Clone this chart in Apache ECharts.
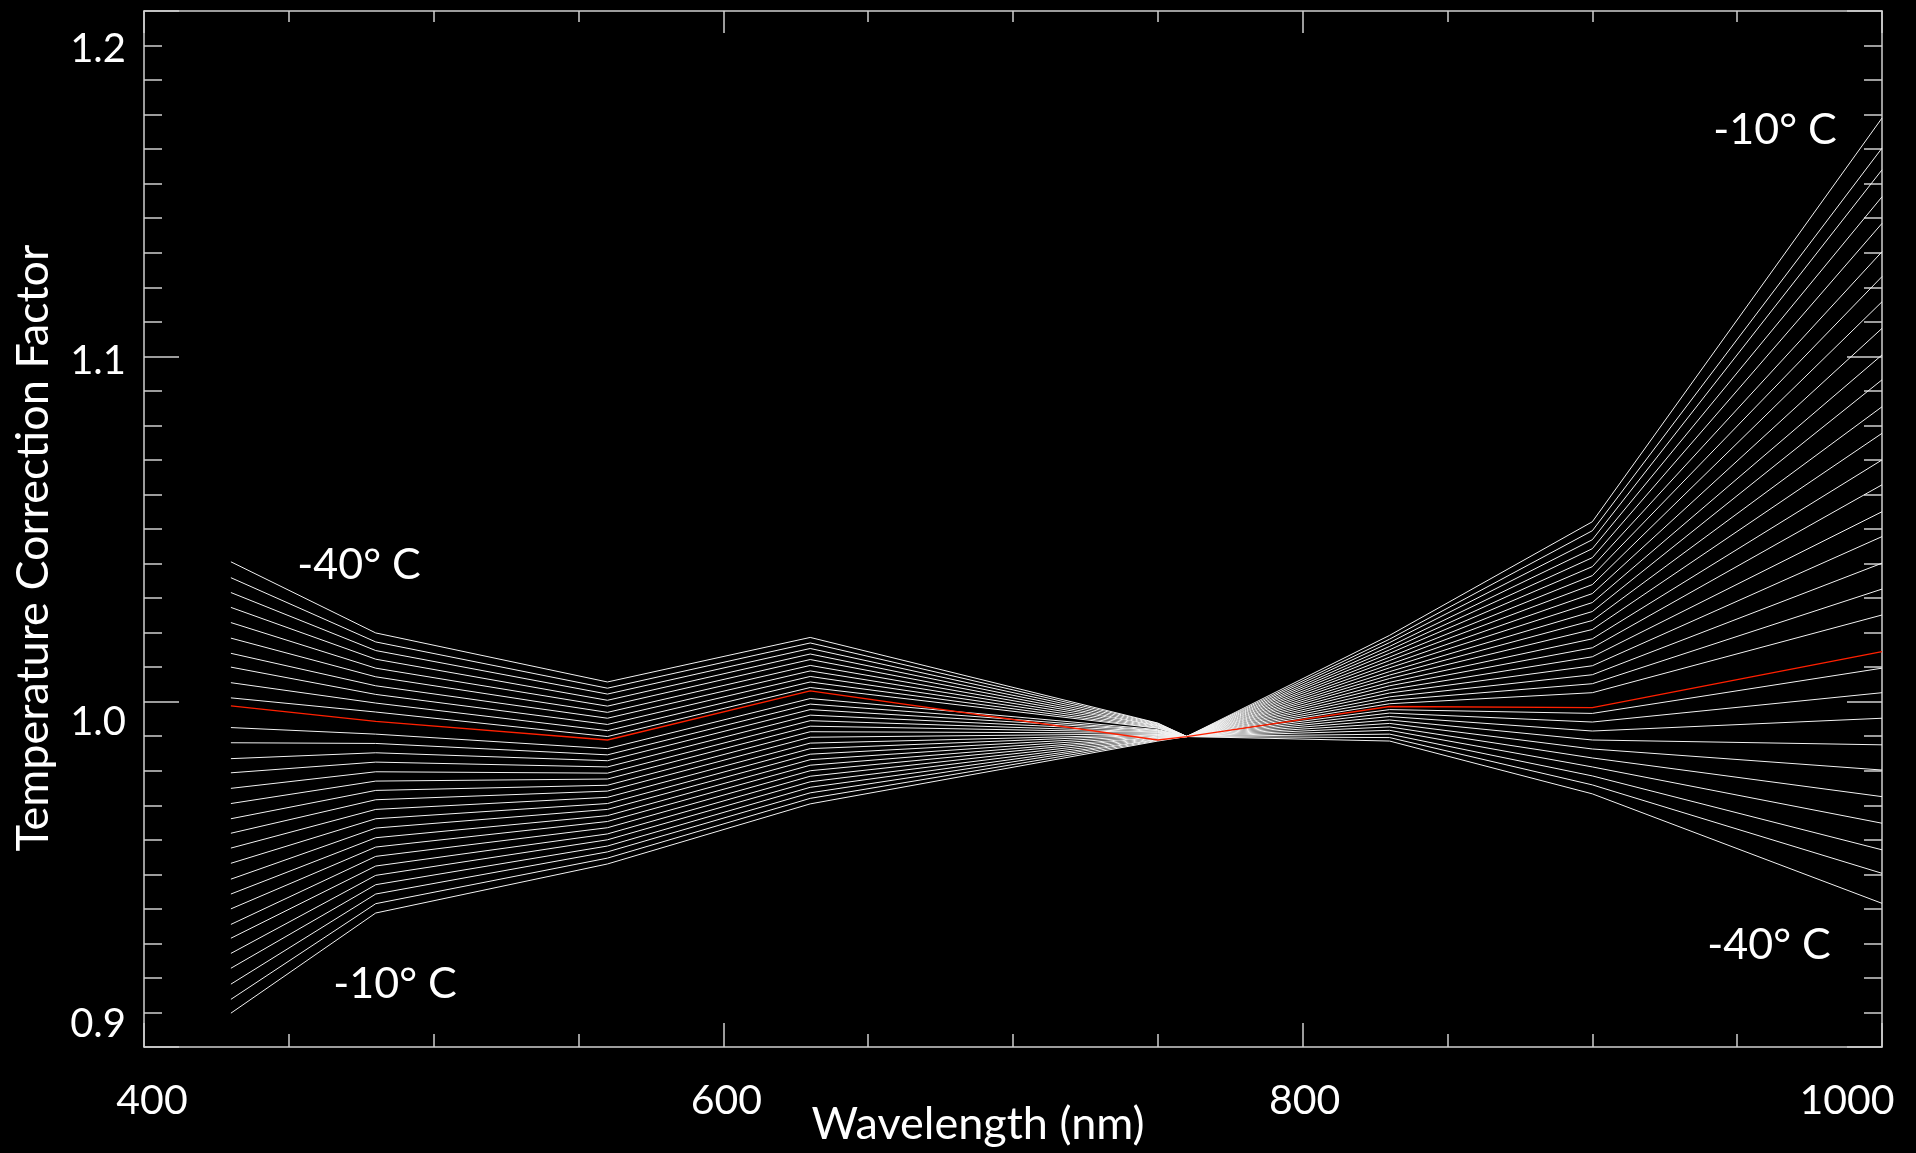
<!DOCTYPE html>
<html><head><meta charset="utf-8">
<script src="https://cdn.jsdelivr.net/npm/echarts@6/dist/echarts.min.js"></script>
<style>html,body{margin:0;padding:0;background:#000;overflow:hidden}#c{width:1916px;height:1153px}</style>
</head><body><div id="c"></div>
<script>
// ---- data ----
const wavelengths = [430, 480, 560, 630, 750, 760, 830, 900, 1000];
const temperatures = [-40,-39,-38,-37,-36,-35,-34,-33,-32,-31,-30,-29,-28,-27,-26,-25,-24,-23,-22,-21,-20,-19,-18,-17,-16,-15,-14,-13,-12,-11,-10];
const highlightTemperature = -30;
// correction factor at each wavelength, one entry per temperature (-40 ... -10)
const f430  = [1.0405,1.0359,1.0316,1.0273,1.0229,1.0184,1.0140,1.0100,1.0055,1.0011,0.9988,0.9925,0.9881,0.9835,0.9794,0.9749,0.9705,0.9661,0.9619,0.9576,0.9532,0.9486,0.9443,0.9400,0.9355,0.9315,0.9271,0.9228,0.9182,0.9138,0.9098];
const f480  = [1.0199,1.0173,1.0148,1.0123,1.0097,1.0072,1.0046,1.0021,0.9996,0.9970,0.9943,0.9906,0.9879,0.9852,0.9825,0.9797,0.9770,0.9743,0.9716,0.9688,0.9661,0.9634,0.9606,0.9579,0.9552,0.9524,0.9497,0.9470,0.9443,0.9415,0.9388];
const f560  = [1.0057,1.0039,1.0022,1.0004,0.9987,0.9969,0.9952,0.9934,0.9916,0.9899,0.9889,0.9864,0.9846,0.9829,0.9811,0.9793,0.9776,0.9758,0.9741,0.9723,0.9705,0.9688,0.9670,0.9653,0.9635,0.9617,0.9600,0.9582,0.9565,0.9547,0.9530];
const f630  = [1.0186,1.0170,1.0154,1.0138,1.0122,1.0105,1.0089,1.0073,1.0057,1.0041,1.0031,1.0009,0.9993,0.9977,0.9961,0.9945,0.9929,0.9913,0.9897,0.9880,0.9864,0.9848,0.9832,0.9816,0.9800,0.9784,0.9768,0.9752,0.9736,0.9720,0.9704];
const f750  = [0.9938,0.9937,0.9935,0.9933,0.9931,0.9930,0.9928,0.9926,0.9924,0.9923,0.9889,0.9919,0.9917,0.9916,0.9914,0.9912,0.9911,0.9909,0.9907,0.9905,0.9904,0.9902,0.9900,0.9898,0.9897,0.9895,0.9893,0.9891,0.9890,0.9888,0.9886];
const f760  = [0.9899,0.9899,0.9899,0.9899,0.9899,0.9899,0.9899,0.9899,0.9899,0.9899,0.9899,0.9899,0.9899,0.9899,0.9899,0.9899,0.9899,0.9899,0.9899,0.9899,0.9899,0.9899,0.9899,0.9899,0.9899,0.9899,0.9899,0.9899,0.9899,0.9899,0.9899];
const f830  = [0.9886,0.9896,0.9906,0.9917,0.9927,0.9937,0.9947,0.9957,0.9967,0.9977,0.9986,0.9994,1.0004,1.0014,1.0025,1.0035,1.0046,1.0056,1.0067,1.0077,1.0087,1.0098,1.0108,1.0119,1.0129,1.0140,1.0150,1.0160,1.0171,1.0181,1.0192];
const f900  = [0.9733,0.9759,0.9785,0.9811,0.9837,0.9863,0.9889,0.9915,0.9941,0.9966,0.9983,1.0026,1.0052,1.0078,1.0104,1.0130,1.0156,1.0182,1.0209,1.0235,1.0261,1.0287,1.0313,1.0339,1.0365,1.0391,1.0417,1.0443,1.0469,1.0495,1.0521];
const f1000 = [0.9416,0.9503,0.9571,0.9648,0.9725,0.9802,0.9875,0.9952,1.0026,1.0097,1.0145,1.0251,1.0326,1.0401,1.0478,1.0550,1.0628,1.0700,1.0777,1.0854,1.0932,1.1004,1.1081,1.1158,1.1231,1.1303,1.1385,1.1462,1.1540,1.1603,1.1690];
const xTickLabels = [400, 600, 800, 1000];
const yTickLabels = [0.9, 1.0, 1.1, 1.2];
const curveLabels = ['-40° C', '-10° C', '-10° C', '-40° C'];

// ---- chart ----
const columns = [f430, f480, f560, f630, f750, f760, f830, f900, f1000];
const axisColor = '#d0d0d0';
const FONT = 'Lato';
const chart = echarts.init(document.getElementById('c'), null, {renderer: 'canvas'});

const series = temperatures.map((t, i) => ({
  type: 'line',
  name: t + '° C',
  data: wavelengths.map((w, j) => [w, columns[j][i]]),
  showSymbol: false, symbol: 'none', silent: true, animation: false,
  lineStyle: t === highlightTemperature ? {width: 1.3, color: '#ff2000'} : {width: 1, color: '#f2f2f2'},
  z: t === highlightTemperature ? 5 : 2
}));

const tickStyle = {color: axisColor, width: 1.5};
const yShift = yTickLabels.map(v => v.toFixed(1));
const yPad = [[0,0,46,0], [40,0,0,0], [10,0,0,0], [76,0,0,0]];
const xPad = [[0,0,0,16], [0,0,0,6], [0,0,0,4], [0,70,0,0]];
const yRich = {}; yPad.forEach((p, k) => { yRich['y' + k] = {color:'#fff', fontFamily: FONT, fontSize: 40, padding: p}; });
const xRich = {}; xPad.forEach((p, k) => { xRich['x' + k] = {color:'#fff', fontFamily: FONT, fontSize: 41, padding: p}; });

const labelPos = [[359, 565], [395, 984], [1775, 130], [1769, 945]];

chart.setOption({
  backgroundColor: '#000000',
  animation: false,
  grid: {left: 144, right: 34, top: 11, bottom: 106, containLabel: false, outerBoundsMode: 'none'},
  xAxis: [{
    type: 'value', position: 'bottom', min: 400, max: 1000, interval: 200,
    axisLine: {show: true, onZero: false, lineStyle: tickStyle},
    axisTick: {show: true, inside: true, length: 24, lineStyle: tickStyle},
    minorTick: {show: true, splitNumber: 4, length: 13, lineStyle: tickStyle},
    splitLine: {show: false}, minorSplitLine: {show: false},
    axisLabel: {color: '#fff', fontFamily: FONT, fontSize: 41, margin: 33, rich: xRich,
      formatter: v => { const k = xTickLabels.indexOf(Math.round(v)); return k < 0 ? '' : '{x' + k + '|' + Math.round(v) + '}'; }},
    name: 'Wavelength (nm)', nameLocation: 'middle', nameGap: 55, nameMoveOverlap: false,
    nameTextStyle: {color: '#fff', fontFamily: FONT, fontSize: 45, padding: [0, 70, 0, 0]}
  }, {
    type: 'value', position: 'top', min: 400, max: 1000, interval: 200,
    axisLine: {show: true, onZero: false, lineStyle: tickStyle},
    axisTick: {show: true, inside: true, length: 22, lineStyle: tickStyle},
    minorTick: {show: true, splitNumber: 4, length: 11, lineStyle: tickStyle},
    splitLine: {show: false}, axisLabel: {show: false}
  }],
  yAxis: [{
    type: 'value', position: 'left', min: 0.9, max: 1.2, interval: 0.1,
    axisLine: {show: true, onZero: false, lineStyle: tickStyle},
    axisTick: {show: true, inside: true, length: 35, lineStyle: tickStyle},
    minorTick: {show: true, splitNumber: 10, length: 18, lineStyle: tickStyle},
    splitLine: {show: false}, minorSplitLine: {show: false},
    axisLabel: {color: '#fff', fontFamily: FONT, fontSize: 40, margin: 18, rich: yRich,
      formatter: v => { const s = (Math.round(v * 10) / 10).toFixed(1); const k = yShift.indexOf(s); return k < 0 ? '' : '{y' + k + '|' + s + '}'; }},
    name: 'Temperature Correction Factor', nameLocation: 'middle', nameRotate: 90, nameGap: 88,
    nameTextStyle: {color: '#fff', fontFamily: FONT, fontSize: 45, padding: [0, 38, 0, 0]}
  }, {
    type: 'value', position: 'right', min: 0.9, max: 1.2, interval: 0.1,
    axisLine: {show: true, onZero: false, lineStyle: tickStyle},
    axisTick: {show: true, inside: true, length: 35, lineStyle: tickStyle},
    minorTick: {show: true, splitNumber: 10, length: 18, lineStyle: tickStyle},
    splitLine: {show: false}, axisLabel: {show: false}
  }],
  graphic: curveLabels.map((txt, k) => ({
    type: 'text', x: labelPos[k][0], y: labelPos[k][1], silent: true,
    style: {text: txt, fill: '#fff', font: '43px ' + FONT, align: 'center', verticalAlign: 'middle', textAlign: 'center', textVerticalAlign: 'middle'}
  })),
  series: series
});
</script></body></html>
